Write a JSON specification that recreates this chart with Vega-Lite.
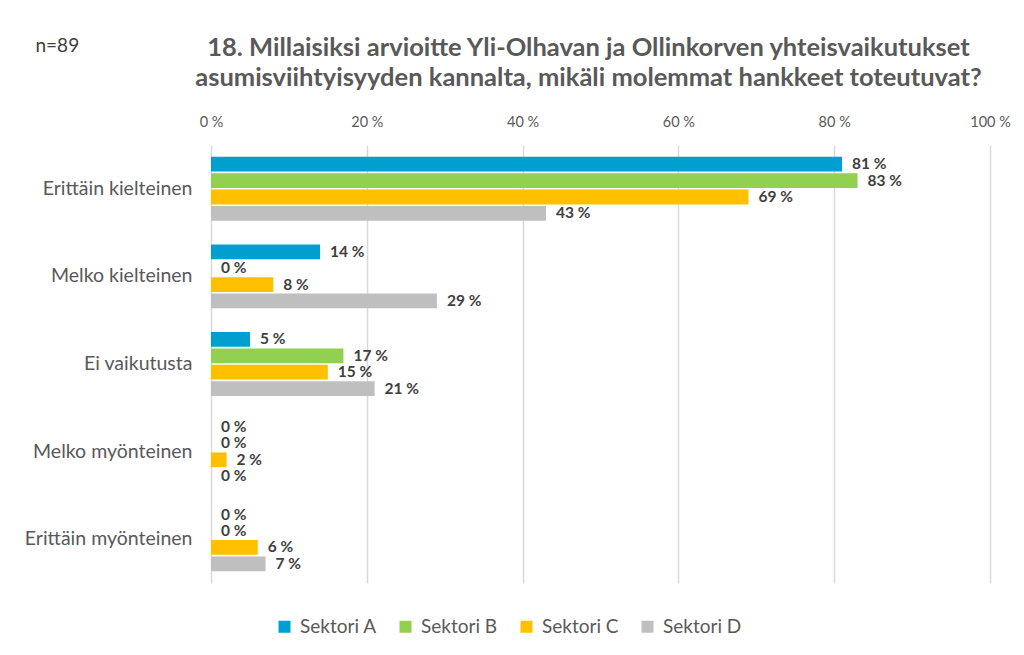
{
  "$schema": "https://vega.github.io/schema/vega-lite/v6.json",
  "width": 779,
  "height": 438,
  "autosize": {"type": "none"},
  "padding": {"left": 211, "top": 145, "right": 34, "bottom": 72},
  "background": "white",
  "title": {
    "text": ["18. Millaisiksi arvioitte Yli-Olhavan ja Ollinkorven yhteisvaikutukset", "asumisviihtyisyyden kannalta, mikäli molemmat hankkeet toteutuvat?"],
    "anchor": "middle",
    "font": "Lato",
    "fontSize": 25.5,
    "fontWeight": "bold",
    "color": "#595959",
    "lineHeight": 30,
    "offset": 0,
    "dy": 55,
    "dx": -12
  },
  "data": {
    "values": [
      {"category": "Erittäin kielteinen", "sector": "Sektori A", "value": 0.81},
      {"category": "Erittäin kielteinen", "sector": "Sektori B", "value": 0.83},
      {"category": "Erittäin kielteinen", "sector": "Sektori C", "value": 0.69},
      {"category": "Erittäin kielteinen", "sector": "Sektori D", "value": 0.43},
      {"category": "Melko kielteinen", "sector": "Sektori A", "value": 0.14},
      {"category": "Melko kielteinen", "sector": "Sektori B", "value": 0},
      {"category": "Melko kielteinen", "sector": "Sektori C", "value": 0.08},
      {"category": "Melko kielteinen", "sector": "Sektori D", "value": 0.29},
      {"category": "Ei vaikutusta", "sector": "Sektori A", "value": 0.05},
      {"category": "Ei vaikutusta", "sector": "Sektori B", "value": 0.17},
      {"category": "Ei vaikutusta", "sector": "Sektori C", "value": 0.15},
      {"category": "Ei vaikutusta", "sector": "Sektori D", "value": 0.21},
      {"category": "Melko myönteinen", "sector": "Sektori A", "value": 0},
      {"category": "Melko myönteinen", "sector": "Sektori B", "value": 0},
      {"category": "Melko myönteinen", "sector": "Sektori C", "value": 0.02},
      {"category": "Melko myönteinen", "sector": "Sektori D", "value": 0},
      {"category": "Erittäin myönteinen", "sector": "Sektori A", "value": 0},
      {"category": "Erittäin myönteinen", "sector": "Sektori B", "value": 0},
      {"category": "Erittäin myönteinen", "sector": "Sektori C", "value": 0.06},
      {"category": "Erittäin myönteinen", "sector": "Sektori D", "value": 0.07}
    ]
  },
  "encoding": {
    "y": {
      "field": "category",
      "type": "nominal",
      "sort": ["Erittäin kielteinen", "Melko kielteinen", "Ei vaikutusta", "Melko myönteinen", "Erittäin myönteinen"],
      "scale": {"paddingInner": 0.27, "paddingOuter": 0.135},
      "axis": {
        "title": "n=89",
        "titleAngle": 0,
        "titleAlign": "left",
        "titleBaseline": "middle",
        "titleX": -176,
        "titleY": -100,
        "titleFont": "Lato",
        "titleFontSize": 19,
        "titleFontWeight": "normal",
        "titleColor": "#404040",
        "domain": false,
        "ticks": false,
        "labelPadding": 19,
        "labelFont": "Lato",
        "labelFontSize": 19.5,
        "labelColor": "#595959"
      }
    },
    "yOffset": {
      "field": "sector",
      "type": "nominal",
      "sort": ["Sektori A", "Sektori B", "Sektori C", "Sektori D"],
      "scale": {"paddingInner": 0.1, "paddingOuter": 0}
    },
    "x": {
      "field": "value",
      "type": "quantitative",
      "scale": {"domain": [0, 1]},
      "axis": {
        "orient": "top",
        "title": null,
        "format": ".0%",
        "values": [0, 0.2, 0.4, 0.6, 0.8, 1],
        "labelOverlap": false,
        "labelFlush": false,
        "domain": false,
        "ticks": false,
        "labelPadding": 16,
        "labelFont": "Lato",
        "labelFontSize": 14.5,
        "labelColor": "#595959",
        "grid": true,
        "gridColor": "#d9d9d9",
        "gridWidth": 1.5
      }
    }
  },
  "layer": [
    {
      "mark": {"type": "bar"},
      "encoding": {
        "color": {
          "field": "sector",
          "type": "nominal",
          "scale": {
            "domain": ["Sektori A", "Sektori B", "Sektori C", "Sektori D"],
            "range": ["#009FCF", "#92D050", "#FFC000", "#BFBFBF"]
          },
          "legend": {
            "title": null,
            "orient": "none",
            "direction": "horizontal",
            "columns": 4,
            "gridAlign": "all",
            "legendX": 64,
            "legendY": 472,
            "symbolType": "square",
            "symbolSize": 144,
            "symbolStrokeWidth": 0,
            "labelFont": "Lato",
            "labelFontSize": 19,
            "labelColor": "#595959",
            "labelOffset": 6,
            "columnPadding": 17
          }
        }
      }
    },
    {
      "mark": {"type": "text", "align": "left", "baseline": "middle", "dx": 10, "font": "Lato", "fontSize": 15.5, "fontWeight": "bold", "color": "#404040"},
      "encoding": {
        "text": {"field": "value", "type": "quantitative", "format": ".0%"}
      }
    }
  ],
  "config": {
    "locale": {
      "number": {"decimal": ",", "thousands": " ", "grouping": [3], "currency": ["", " €"], "percent": " %"}
    },
    "view": {"stroke": null}
  }
}
